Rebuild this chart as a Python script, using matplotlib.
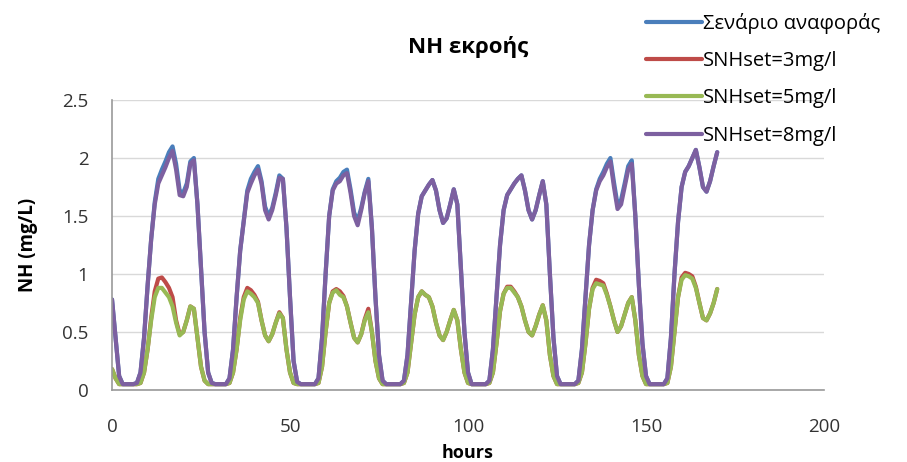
import matplotlib
matplotlib.use("Agg")
import matplotlib.pyplot as plt

plt.rcParams['font.family'] = ['Open Sans', 'DejaVu Sans']

# hourly samples of effluent NH over one week
hours = list(range(0, 171))

nh_ref = [
    0.78, 0.45, 0.12, 0.05, 0.05, 0.05, 0.05, 0.06, 0.15, 0.45,
    0.90, 1.30, 1.62, 1.82, 1.90, 1.97, 2.05, 2.10, 1.95, 1.72,
    1.70, 1.78, 1.97, 2.00, 1.60, 1.05, 0.50, 0.15, 0.06, 0.05,
    0.05, 0.05, 0.05, 0.10, 0.35, 0.80, 1.20, 1.46, 1.72, 1.82,
    1.88, 1.93, 1.80, 1.58, 1.50, 1.57, 1.70, 1.85, 1.82, 1.40,
    0.80, 0.25, 0.07, 0.05, 0.05, 0.05, 0.05, 0.05, 0.10, 0.45,
    1.00, 1.50, 1.73, 1.80, 1.83, 1.88, 1.90, 1.73, 1.53, 1.46,
    1.57, 1.71, 1.82, 1.40, 0.80, 0.30, 0.08, 0.05, 0.05, 0.05,
    0.05, 0.05, 0.08, 0.30, 0.75, 1.20, 1.52, 1.67, 1.72, 1.77,
    1.81, 1.72, 1.55, 1.44, 1.48, 1.60, 1.73, 1.60, 1.05, 0.50,
    0.15, 0.05, 0.05, 0.05, 0.05, 0.05, 0.08, 0.35, 0.80, 1.25,
    1.55, 1.68, 1.73, 1.78, 1.82, 1.85, 1.72, 1.55, 1.47, 1.55,
    1.68, 1.80, 1.60, 1.00, 0.45, 0.12, 0.05, 0.05, 0.05, 0.05,
    0.05, 0.08, 0.35, 0.80, 1.25, 1.55, 1.73, 1.82, 1.88, 1.95,
    2.00, 1.79, 1.60, 1.64, 1.78, 1.93, 1.98, 1.50, 0.90, 0.40,
    0.12, 0.05, 0.05, 0.05, 0.05, 0.05, 0.10, 0.45, 1.00, 1.45,
    1.75, 1.88, 1.93, 2.00, 2.07, 1.92, 1.75, 1.71, 1.80, 1.93,
    2.05,
]

nh_3 = [
    0.18, 0.10, 0.05, 0.05, 0.05, 0.05, 0.05, 0.05, 0.06, 0.15,
    0.35, 0.62, 0.85, 0.96, 0.97, 0.93, 0.88, 0.80, 0.60, 0.48,
    0.50, 0.60, 0.72, 0.70, 0.45, 0.20, 0.08, 0.05, 0.05, 0.05,
    0.05, 0.05, 0.05, 0.06, 0.15, 0.35, 0.62, 0.80, 0.88, 0.86,
    0.82, 0.76, 0.60, 0.47, 0.42, 0.48, 0.58, 0.67, 0.62, 0.35,
    0.15, 0.06, 0.05, 0.05, 0.05, 0.05, 0.05, 0.05, 0.06, 0.20,
    0.50, 0.75, 0.85, 0.87, 0.85, 0.81, 0.72, 0.58, 0.45, 0.41,
    0.48, 0.61, 0.70, 0.50, 0.25, 0.10, 0.05, 0.05, 0.05, 0.05,
    0.05, 0.05, 0.06, 0.15, 0.40, 0.65, 0.80, 0.85, 0.82, 0.80,
    0.72, 0.58, 0.47, 0.43, 0.50, 0.60, 0.69, 0.60, 0.35, 0.15,
    0.06, 0.05, 0.05, 0.05, 0.05, 0.05, 0.06, 0.15, 0.40, 0.68,
    0.83, 0.89, 0.89, 0.85, 0.80, 0.72, 0.60, 0.50, 0.47, 0.55,
    0.65, 0.73, 0.60, 0.30, 0.12, 0.05, 0.05, 0.05, 0.05, 0.05,
    0.05, 0.06, 0.15, 0.40, 0.70, 0.88, 0.95, 0.94, 0.92, 0.83,
    0.72, 0.60, 0.50, 0.55, 0.65, 0.75, 0.80, 0.60, 0.30, 0.12,
    0.05, 0.05, 0.05, 0.05, 0.05, 0.05, 0.06, 0.20, 0.50, 0.80,
    0.97, 1.01, 1.00, 0.98, 0.89, 0.75, 0.62, 0.60, 0.66, 0.75,
    0.87,
]

nh_5 = [
    0.18, 0.10, 0.05, 0.05, 0.05, 0.05, 0.05, 0.05, 0.06, 0.15,
    0.35, 0.60, 0.80, 0.88, 0.88, 0.84, 0.80, 0.72, 0.58, 0.47,
    0.50, 0.60, 0.72, 0.70, 0.45, 0.20, 0.08, 0.05, 0.05, 0.05,
    0.05, 0.05, 0.05, 0.06, 0.15, 0.35, 0.60, 0.78, 0.85, 0.83,
    0.80, 0.75, 0.60, 0.47, 0.42, 0.48, 0.58, 0.66, 0.62, 0.35,
    0.15, 0.06, 0.05, 0.05, 0.05, 0.05, 0.05, 0.05, 0.06, 0.20,
    0.50, 0.75, 0.84, 0.86, 0.82, 0.80, 0.72, 0.58, 0.45, 0.41,
    0.48, 0.60, 0.67, 0.50, 0.25, 0.10, 0.05, 0.05, 0.05, 0.05,
    0.05, 0.05, 0.06, 0.15, 0.40, 0.65, 0.80, 0.85, 0.82, 0.80,
    0.72, 0.58, 0.47, 0.43, 0.50, 0.60, 0.69, 0.60, 0.35, 0.15,
    0.06, 0.05, 0.05, 0.05, 0.05, 0.05, 0.06, 0.15, 0.40, 0.68,
    0.83, 0.88, 0.88, 0.84, 0.80, 0.72, 0.60, 0.50, 0.47, 0.55,
    0.65, 0.73, 0.60, 0.30, 0.12, 0.05, 0.05, 0.05, 0.05, 0.05,
    0.05, 0.06, 0.15, 0.40, 0.70, 0.87, 0.92, 0.91, 0.90, 0.82,
    0.72, 0.60, 0.50, 0.55, 0.65, 0.75, 0.80, 0.60, 0.30, 0.12,
    0.05, 0.05, 0.05, 0.05, 0.05, 0.05, 0.06, 0.20, 0.50, 0.80,
    0.95, 0.99, 0.98, 0.96, 0.88, 0.75, 0.62, 0.60, 0.66, 0.75,
    0.87,
]

nh_8 = [
    0.78, 0.45, 0.12, 0.05, 0.05, 0.05, 0.05, 0.06, 0.15, 0.45,
    0.90, 1.30, 1.60, 1.78, 1.85, 1.92, 2.00, 2.06, 1.90, 1.68,
    1.67, 1.75, 1.95, 1.98, 1.60, 1.05, 0.50, 0.15, 0.06, 0.05,
    0.05, 0.05, 0.05, 0.10, 0.35, 0.80, 1.20, 1.45, 1.70, 1.78,
    1.85, 1.90, 1.78, 1.55, 1.47, 1.55, 1.68, 1.83, 1.82, 1.40,
    0.80, 0.25, 0.07, 0.05, 0.05, 0.05, 0.05, 0.05, 0.10, 0.45,
    1.00, 1.50, 1.72, 1.78, 1.80, 1.85, 1.87, 1.70, 1.50, 1.42,
    1.55, 1.70, 1.80, 1.40, 0.80, 0.30, 0.08, 0.05, 0.05, 0.05,
    0.05, 0.05, 0.08, 0.30, 0.75, 1.20, 1.52, 1.67, 1.72, 1.77,
    1.81, 1.72, 1.55, 1.44, 1.48, 1.60, 1.73, 1.60, 1.05, 0.50,
    0.15, 0.05, 0.05, 0.05, 0.05, 0.05, 0.08, 0.35, 0.80, 1.25,
    1.55, 1.68, 1.73, 1.78, 1.82, 1.85, 1.72, 1.55, 1.47, 1.55,
    1.68, 1.80, 1.60, 1.00, 0.45, 0.12, 0.05, 0.05, 0.05, 0.05,
    0.05, 0.08, 0.35, 0.80, 1.25, 1.55, 1.72, 1.80, 1.85, 1.92,
    1.97, 1.75, 1.56, 1.60, 1.75, 1.90, 1.95, 1.50, 0.90, 0.40,
    0.12, 0.05, 0.05, 0.05, 0.05, 0.05, 0.10, 0.45, 1.00, 1.45,
    1.75, 1.88, 1.93, 2.00, 2.07, 1.92, 1.75, 1.71, 1.80, 1.93,
    2.05,
]

labels = ['Σενάριο αναφοράς', 'SNHset=3mg/l', 'SNHset=5mg/l', 'SNHset=8mg/l']
colors = ['#4a7ebb', '#be4b48', '#98b954', '#7d60a0']

fig = plt.figure(figsize=(9.07, 4.62), dpi=100)
ax = fig.add_axes([0.1235, 0.156, 0.785, 0.6275])

for ys, lab, c in zip([nh_ref, nh_3, nh_5, nh_8], labels, colors):
    ax.plot(hours, ys, color=c, lw=3.0, label=lab,
            solid_joinstyle='round', solid_capstyle='round')

ax.set_xlim(0, 200)
ax.set_ylim(0, 2.5)
ax.set_xticks([0, 50, 100, 150, 200])
ax.set_yticks([0, 0.5, 1, 1.5, 2, 2.5])
ax.set_yticklabels(['0', '0.5', '1', '1.5', '2', '2.5'])
ax.tick_params(length=0, labelsize=13.5, colors='#333333')
ax.tick_params(axis='x', pad=20)
ax.tick_params(axis='y', pad=17)
ax.yaxis.grid(True, color='#d9d9d9', lw=1)
ax.set_axisbelow(True)
for s in ['top', 'right']:
    ax.spines[s].set_visible(False)
for s in ['left', 'bottom']:
    ax.spines[s].set_color('#999999')
    ax.spines[s].set_linewidth(1.2)

ax.set_title('NH εκροής', fontsize=16, fontweight='bold', pad=34)
ax.set_ylabel('NH (mg/L)', fontsize=13.5, fontweight='bold', labelpad=17)
ax.set_xlabel('hours', fontsize=13, fontweight='bold', labelpad=6)

fig.legend(loc='upper left', bbox_to_anchor=(0.697, 1.003), frameon=False,
           fontsize=14.5, handlelength=2.75, handletextpad=0.05,
           labelspacing=0.86, borderpad=0.2)

fig.savefig('out.png', dpi=100)
